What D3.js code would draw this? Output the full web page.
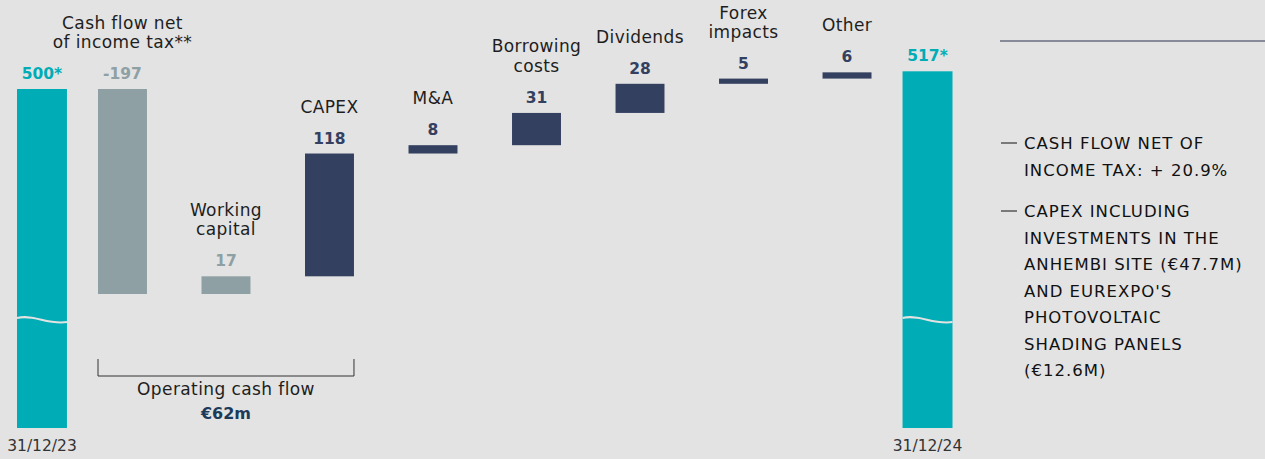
<!DOCTYPE html>
<meta charset="utf-8">
<script src="https://cdn.jsdelivr.net/npm/d3@7"></script>
<style>
  html, body { margin: 0; padding: 0; background: #e3e3e3; }
  svg { display: block; font-family: "DejaVu Sans", sans-serif; }
</style>
<body>
<script>

var width = 1265
var height = 459

// net debt bridge, €m
var startLabel = "31/12/23", startValue = 500, startText = "500*"
var endLabel = "31/12/24", endValue = 517, endText = "517*"
var steps = ["cf", "wc", "capex", "ma", "borrow", "div", "fx", "other"]
var stepNames = [["Cash flow net", "of income tax**"], ["Working", "capital"], ["CAPEX"], ["M&A"],
                 ["Borrowing", "costs"], ["Dividends"], ["Forex", "impacts"], ["Other"]]
var stepValues = [-197, 17, 118, 8, 31, 28, 5, 6]
var stepText = ["-197", "17", "118", "8", "31", "28", "5", "6"]
var stepKind = ["op", "op", "inv", "inv", "inv", "inv", "inv", "inv"]
var notes = [["CASH FLOW NET OF", "INCOME TAX: + 20.9%"],
             ["CAPEX INCLUDING", "INVESTMENTS IN THE", "ANHEMBI SITE (€47.7M)", "AND EUREXPO'S",
              "PHOTOVOLTAIC", "SHADING PANELS", "(€12.6M)"]]

var colors = { total: "#00acb5", op: "#8ea0a3", inv: "#34405f" }

var svg = d3.select("body").append("svg")
            .attr("width", width)
            .attr("height", height)

var x = d3.scaleBand().domain(steps).range([98, 871.5]).paddingInner(0.527).paddingOuter(0)
var y = d3.scaleLinear().domain([303, 500]).range([294, 89])
var baseY = 428   // bottom of the broken total bars

// running totals
var cum = startValue
var rows = steps.map(function(k, i) {
  var from = cum
  cum += stepValues[i]
  return { key: k, from: from, to: cum, name: stepNames[i], text: stepText[i], kind: stepKind[i] }
})

var g = svg.append("g")

// floating bars
g.selectAll("rect.step").data(rows).enter().append("rect")
  .attr("class", "step")
  .attr("x", function(d) { return x(d.key) })
  .attr("width", x.bandwidth())
  .attr("y", function(d) { return y(Math.max(d.from, d.to)) })
  .attr("height", function(d) { return Math.abs(y(d.from) - y(d.to)) })
  .attr("fill", function(d) { return colors[d.kind] })

g.selectAll("text.val").data(rows).enter().append("text")
  .attr("class", "val")
  .attr("x", function(d) { return x(d.key) + x.bandwidth() / 2 })
  .attr("y", function(d) { return y(Math.max(d.from, d.to)) - 10 })
  .attr("text-anchor", "middle")
  .style("font-size", "15.5px").style("font-weight", 700)
  .attr("fill", function(d) { return colors[d.kind] })
  .text(function(d) { return d.text })

rows.forEach(function(d) {
  var top = y(Math.max(d.from, d.to))
  var t = g.append("text")
    .attr("x", x(d.key) + x.bandwidth() / 2)
    .attr("text-anchor", "middle")
    .style("font-size", "17px").style("letter-spacing", "0.4px").attr("fill", "#1e1e1e")
  var n = d.name.length
  d.name.forEach(function(line, i) {
    t.append("tspan")
     .attr("x", x(d.key) + x.bandwidth() / 2)
     .attr("y", Math.max(top - 41 - (n - 1 - i) * 19.5, 19 + i * 19))
     .text(line)
  })
})

// total bars (broken axis)
var totals = [
  { label: startLabel, value: startValue, text: startText, x: x(steps[0]) - 81 },
  { label: endLabel, value: endValue, text: endText, x: x(steps[steps.length - 1]) + 80 }
]
var tw = x.bandwidth() + 1

totals.forEach(function(d) {
  g.append("rect").attr("x", d.x).attr("width", tw)
   .attr("y", y(d.value)).attr("height", baseY - y(d.value))
   .attr("fill", colors.total)
  // break mark
  g.append("path")
   .attr("d", "M" + d.x + ",318 C" + (d.x + tw * 0.35) + ",314 " + (d.x + tw * 0.6) + ",325 " + (d.x + tw) + ",322")
   .attr("fill", "none").attr("stroke", "#e3e3e3").attr("stroke-width", 2)
  g.append("text").attr("x", d.x + tw / 2).attr("y", y(d.value) - 10)
   .attr("text-anchor", "middle").style("font-size", "15.5px").style("font-weight", 700)
   .attr("fill", colors.total).text(d.text)
  g.append("text").attr("x", d.x + tw / 2).attr("y", 451)
   .attr("text-anchor", "middle").style("font-size", "15.5px").attr("fill", "#333")
   .text(d.label)
})

// operating cash flow bracket
var bx0 = x("cf"), bx1 = x("capex") + x.bandwidth()
g.append("path")
  .attr("d", "M" + bx0 + ",359 V376 H" + bx1 + " V359")
  .attr("fill", "none").attr("stroke", "#333").attr("stroke-width", 1)
g.append("text").attr("x", (bx0 + bx1) / 2).attr("y", 395)
  .attr("text-anchor", "middle").style("font-size", "17px").style("letter-spacing", "0.4px")
  .attr("fill", "#1e1e1e")
  .text("Operating cash flow")
g.append("text").attr("x", (bx0 + bx1) / 2).attr("y", 419)
  .attr("text-anchor", "middle").style("font-size", "16px").style("font-weight", 700)
  .attr("fill", "#1c3a5a")
  .text("€" + d3.sum(stepValues.slice(0, 3), function(v) { return -v }) + "m")

// notes on the right
g.append("line").attr("x1", 1000).attr("x2", 1265).attr("y1", 41).attr("y2", 41)
  .attr("stroke", "#2c3550").attr("stroke-width", 1.2)

var ny = [149, 217]
notes.forEach(function(lines, k) {
  g.append("line").attr("x1", 1001).attr("x2", 1017).attr("y1", ny[k] - 6).attr("y2", ny[k] - 6)
   .attr("stroke", "#111").attr("stroke-width", 1)
  lines.forEach(function(l, i) {
    g.append("text").attr("x", 1024).attr("y", ny[k] + i * 26.5)
     .style("font-size", "16.5px").style("letter-spacing", "1px").attr("fill", "#111").text(l)
  })
})

</script>
</body>
